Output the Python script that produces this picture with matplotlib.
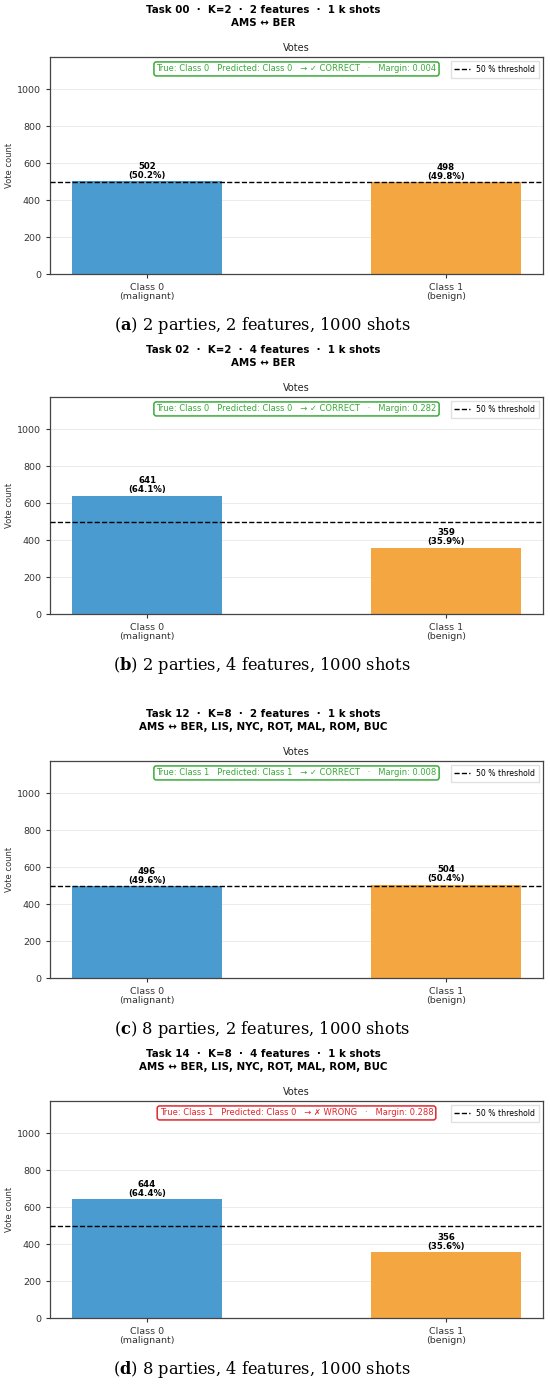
import numpy as np
import matplotlib
matplotlib.use("Agg")
import matplotlib.pyplot as plt

plt.rcParams['font.family'] = ['DejaVu Sans']
plt.rcParams['mathtext.fontset'] = 'custom'
plt.rcParams['mathtext.rm'] = 'DejaVu Serif'
plt.rcParams['mathtext.bf'] = 'DejaVu Serif:bold'

# data
task_ids = ['00', '02', '12', '14']
k_parties = [2, 2, 8, 8]
n_features = [2, 4, 2, 4]
routes = ['AMS \u2194 BER',
          'AMS \u2194 BER',
          'AMS \u2194 BER, LIS, NYC, ROT, MAL, ROM, BUC',
          'AMS \u2194 BER, LIS, NYC, ROT, MAL, ROM, BUC']
votes_c0 = [502, 641, 496, 644]
votes_c1 = [498, 359, 504, 356]
true_cls = [0, 0, 1, 1]
pred_cls = [0, 0, 1, 0]
margins = [0.004, 0.282, 0.008, 0.288]
letters = ['a', 'b', 'c', 'd']
shots = 1000
class_labels = ['Class 0\n(malignant)', 'Class 1\n(benign)']

bar_cols = ['#4A9BD0', '#F4A641']
ok_col = '#3BAA3B'
bad_col = '#E0282E'

W, H = 550, 1387
fig = plt.figure(figsize=(W / 100, H / 100), dpi=100)

# pixel positions of the axes (top, bottom) in the picture
ax_rows = [(57, 274), (397, 614), (761, 978), (1101, 1318)]
ax_left, ax_right = 50, 543

for i in range(4):
    top, bot = ax_rows[i]
    ax = fig.add_axes([ax_left / W, 1 - bot / H, (ax_right - ax_left) / W, (bot - top) / H])
    vals = [votes_c0[i], votes_c1[i]]
    tot = sum(vals)
    x = np.arange(2)
    ax.bar(x, vals, width=0.5, color=bar_cols, zorder=2)
    ax.axhline(tot / 2, color='black', ls='--', lw=1.0, label='50 % threshold', zorder=3)
    for xi, v in zip(x, vals):
        ax.text(xi, v + 8, f'{v}\n({100 * v / tot:.1f}%)', ha='center', va='bottom',
                fontsize=6.2, fontweight='bold', linespacing=1.0, zorder=4)
    ax.set_ylim(0, 1175)
    ax.set_yticks([0, 200, 400, 600, 800, 1000])
    ax.set_xticks(x)
    ax.set_xticklabels(class_labels, fontsize=6.8, color='#333333', linespacing=1.0)
    ax.tick_params(axis='y', labelsize=6.8, labelcolor='#333333', length=3, color='#333333')
    ax.tick_params(axis='x', length=3, color='#333333')
    ax.grid(axis='y', color='#dddddd', lw=0.6, alpha=0.7, zorder=0)
    ax.set_axisbelow(True)
    for s in ax.spines.values():
        s.set_color('#444444')
        s.set_linewidth(0.9)
    ax.set_title('Votes', fontsize=7, pad=4, color='#222222')
    ax.set_ylabel('Vote count', fontsize=6, color='#333333', labelpad=2)
    ax.legend(loc='upper right', fontsize=5.6, handlelength=2.0, borderpad=0.5,
              framealpha=0.9, edgecolor='#dddddd', fancybox=False)

    correct = true_cls[i] == pred_cls[i]
    col = ok_col if correct else bad_col
    verdict = '\u2192 \u2713 CORRECT' if correct else '\u2192 \u2717 WRONG'
    msg = (f'True: Class {true_cls[i]}   Predicted: Class {pred_cls[i]}   {verdict}'
           f'   \u00b7   Margin: {margins[i]:.3f}')
    ax.text(0.5, 0.945, msg, transform=ax.transAxes, ha='center', va='center',
            fontsize=6.0, color=col,
            bbox=dict(boxstyle='round,pad=0.3', fc='white', ec=col, lw=1.1))

    # panel header
    fig.text(263 / W, 1 - (top - 47) / H,
             f'Task {task_ids[i]}  \u00b7  K={k_parties[i]}  \u00b7  {n_features[i]} features  \u00b7  1 k shots',
             ha='center', va='center', fontsize=7.4, fontweight='bold')
    fig.text(263 / W, 1 - (top - 34) / H, routes[i],
             ha='center', va='center', fontsize=7.4, fontweight='bold')

    # caption under the panel
    fig.text(262 / W, 1 - (bot + 52) / H,
             r'($\mathbf{' + letters[i] + r'}$) ' + f'{k_parties[i]} parties, {n_features[i]} features, {shots} shots',
             ha='center', va='center', fontsize=11.7, family='DejaVu Serif')

fig.savefig('out.png', dpi=100)
